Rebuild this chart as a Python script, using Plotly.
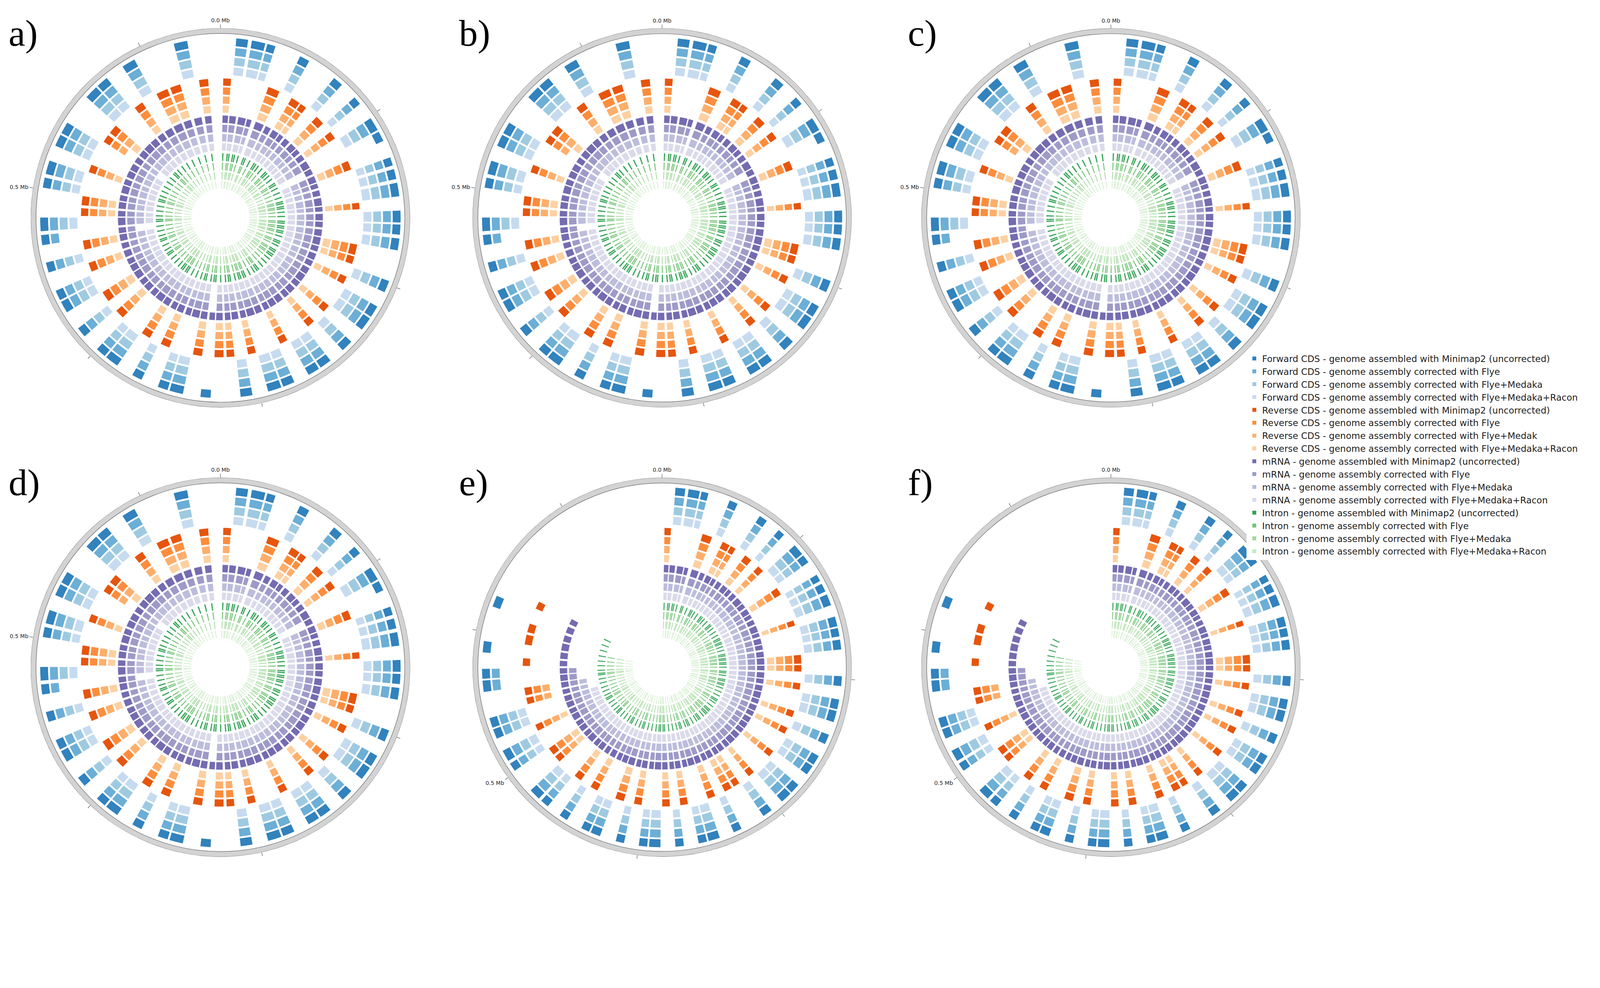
import plotly.graph_objects as go

# ---------------- data ----------------
GENOME_MB = [0.645, 0.645, 0.645, 0.645, 0.768, 0.768]
PANEL_LABELS = ["a)", "b)", "c)", "d)", "e)", "f)"]

# genes: start (kb), length (kb), strand (+1 forward, -1 reverse)
GENE_START = [2, 9, 18, 27, 36, 47, 55, 63, 70, 78, 86, 93, 101, 110, 118, 126, 133, 141, 150, 157,
              165, 173, 181, 190, 198, 206, 214, 222, 231, 239, 247, 255, 263, 271, 279, 287, 296, 304,
              312, 320, 328, 336, 344, 353, 361, 369, 377, 385, 394, 402, 410, 418, 427, 435, 443, 452,
              460, 468, 476, 485, 493, 501, 509, 518, 526, 534, 543, 551, 559, 568, 577, 586, 596, 607,
              618, 629]
GENE_LEN = [6, 7, 8, 5, 9, 6, 7, 5, 6, 7, 5, 6, 8, 6, 7, 5, 6, 8, 5, 7,
            6, 7, 8, 6, 7, 6, 7, 8, 6, 7, 6, 7, 7, 6, 7, 8, 6, 7,
            6, 7, 6, 7, 8, 6, 7, 6, 7, 8, 6, 7, 6, 8, 7, 6, 7, 6,
            7, 6, 8, 6, 7, 6, 8, 6, 7, 7, 6, 7, 8, 7, 7, 8, 9, 8,
            8, 7]
GENE_STRAND = [-1, 1, 1, 1, -1, 1, -1, -1, 1, -1, 1, -1, 1, 1, -1, 1, 1, 1, -1, 1,
               1, 1, -1, -1, 1, -1, 1, 1, -1, 1, -1, 1, 1, -1, 1, 1, -1, 1,
               -1, -1, 1, -1, 1, 1, -1, 1, -1, 1, 1, -1, 1, -1, 1, 1, -1, 1,
               -1, 1, 1, -1, -1, 1, 1, -1, 1, 1, -1, -1, 1, 1, -1, 1, -1, -1,
               1, -1]
# intron positions (kb)
INTRON_POS = [4, 11, 14, 20, 23, 29, 38, 41, 49, 57, 60, 65, 72, 80, 83, 88, 95, 103, 106, 112,
              120, 128, 135, 138, 143, 146, 152, 159, 167, 170, 175, 178, 183, 186, 192, 200, 203,
              208, 216, 219, 224, 227, 233, 241, 249, 257, 260, 265, 273, 281, 284, 289, 292, 298,
              306, 309, 314, 322, 330, 333, 338, 346, 349, 355, 363, 371, 379, 382, 387, 390, 396,
              404, 412, 420, 423, 429, 437, 445, 448, 454, 462, 470, 478, 481, 487, 495, 503, 511,
              514, 520, 528, 536, 545, 553, 561, 564, 570, 579, 588, 598, 609, 620, 631]

# genes missing in each of the 4 tracks (uncorrected, Flye, Flye+Medaka, Flye+Medaka+Racon)
ABSENT_AD = [[], [13, 40], [13, 40, 57], [13, 40, 57, 66]]
ABSENT_EF = [[], [70, 71, 72, 73, 74, 75], [68, 69, 70, 71, 72, 73, 74, 75],
             [66, 67, 68, 69, 70, 71, 72, 73, 74, 75]]

NAMES = ["Forward CDS - genome assembled with Minimap2 (uncorrected)",
         "Forward CDS - genome assembly corrected with Flye",
         "Forward CDS - genome assembly corrected with Flye+Medaka",
         "Forward CDS - genome assembly corrected with Flye+Medaka+Racon",
         "Reverse CDS - genome assembled with Minimap2 (uncorrected)",
         "Reverse CDS - genome assembly corrected with Flye",
         "Reverse CDS - genome assembly corrected with Flye+Medak",
         "Reverse CDS - genome assembly corrected with Flye+Medaka+Racon",
         "mRNA - genome assembled with Minimap2 (uncorrected)",
         "mRNA - genome assembly corrected with Flye",
         "mRNA - genome assembly corrected with Flye+Medaka",
         "mRNA - genome assembly corrected with Flye+Medaka+Racon",
         "Intron - genome assembled with Minimap2 (uncorrected)",
         "Intron - genome assembly corrected with Flye",
         "Intron - genome assembly corrected with Flye+Medaka",
         "Intron - genome assembly corrected with Flye+Medaka+Racon"]
COLORS = ["#3182bd", "#6baed6", "#9ecae1", "#c6dbef",
          "#e6550d", "#fd8d3c", "#fdae6b", "#fdd0a2",
          "#756bb1", "#9e9ac8", "#bcbddc", "#dadaeb",
          "#31a354", "#74c476", "#a1d99b", "#c7e9c0"]
# radial extent of each track group (outer edge, inner edge)
GROUP_R = [(0.955, 0.75), (0.74, 0.55), (0.545, 0.35), (0.345, 0.15)]

# ---------------- figure ----------------
fig = go.Figure()
DOM_X = [[0.0174, 0.2566], [0.296, 0.535], [0.579, 0.818]] * 2
DOM_Y = [[0.553, 0.973]] * 3 + [[0.057, 0.477]] * 3

for p in range(6):
    pid = "polar" if p == 0 else f"polar{p+1}"
    L = GENOME_MB[p] * 1000.0
    deg = 360.0 / L
    absent = ABSENT_AD if p < 4 else ABSENT_EF
    fig.add_trace(go.Barpolar(r=[0.028], base=[0.972], theta=[180], width=[360],
                              marker=dict(color="#d3d3d3", line=dict(color="#666", width=1.2)),
                              showlegend=False, hoverinfo="skip", subplot=pid))
    for g in range(4):
        ro, ri = GROUP_R[g]
        th = (ro - ri) / 4.0
        for k in range(4):
            idx = g * 4 + k
            base = ro - (k + 1) * th + 0.004
            thetas, widths = [], []
            if g < 3:
                for i in range(len(GENE_START)):
                    if i in absent[k]:
                        continue
                    if g == 0 and GENE_STRAND[i] != 1:
                        continue
                    if g == 1 and GENE_STRAND[i] != -1:
                        continue
                    thetas.append((GENE_START[i] + GENE_LEN[i] / 2.0) * deg)
                    widths.append(GENE_LEN[i] * deg)
                lw = 0.8
            else:
                for pos in INTRON_POS:
                    if p >= 4 and pos > 600 and k > 0:
                        continue
                    thetas.append(pos * deg)
                    widths.append(2.2 * deg)
                lw = 0.4
            fig.add_trace(go.Barpolar(
                r=[th - 0.008] * len(thetas), base=[base] * len(thetas),
                theta=thetas, width=widths, name=NAMES[idx],
                marker=dict(color=COLORS[idx], line=dict(color="white", width=lw)),
                showlegend=(p == 0), legendrank=idx + 1, subplot=pid))
    ticks = [i * 100 * deg for i in range(int(L // 100) + 1)]
    texts = ["0.0 Mb" if i == 0 else ("0.5 Mb" if i == 5 else "") for i in range(len(ticks))]
    fig.layout[pid] = dict(
        domain=dict(x=DOM_X[p], y=DOM_Y[p]),
        bgcolor="white",
        radialaxis=dict(range=[0, 1], visible=False),
        angularaxis=dict(rotation=90, direction="clockwise", tickvals=ticks, ticktext=texts,
                         ticks="outside", ticklen=9, tickcolor="#333", showgrid=False,
                         showline=False, tickfont=dict(size=14, family="DejaVu Sans", color="#222")),
        bargap=0)
    fig.add_annotation(text=PANEL_LABELS[p], xref="paper", yref="paper",
                       x=[0.003, 0.287, 0.570][p % 3], y=DOM_Y[p][1] + 0.018,
                       xanchor="left", yanchor="top", showarrow=False,
                       font=dict(size=96, family="Liberation Serif", color="black"))

fig.update_layout(width=4060, height=2320, paper_bgcolor="white", plot_bgcolor="white",
                  margin=dict(l=0, r=0, t=0, b=0),
                  legend=dict(x=0.784, y=0.617, xanchor="left", yanchor="top",
                              font=dict(size=23, family="DejaVu Sans", color="#222"),
                              itemsizing="constant", tracegroupgap=0, traceorder="normal"))
fig.write_html("out.html")
